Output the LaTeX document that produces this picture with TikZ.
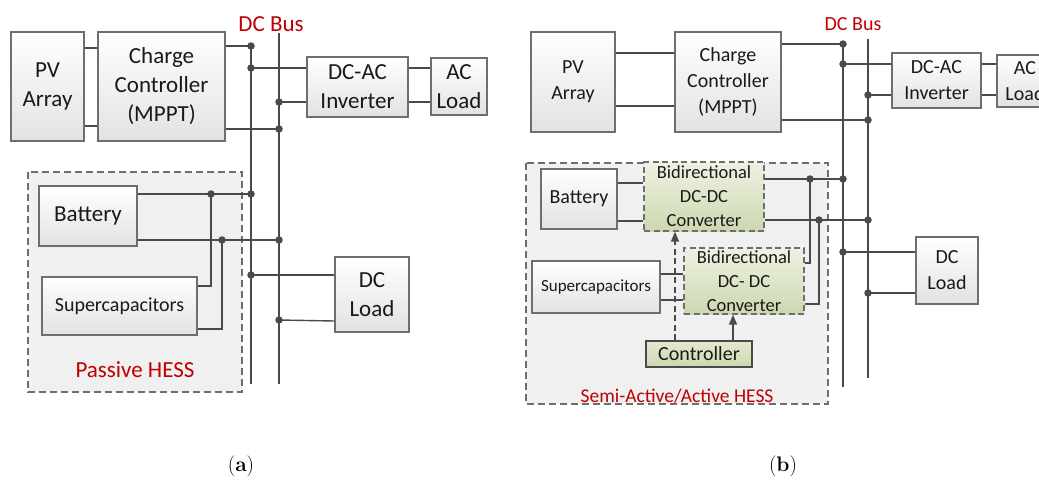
\documentclass[tikz,border=0pt]{standalone}
\usepackage{fontspec}
\setmainfont{Carlito}
\newfontfamily\capfont{Latin Modern Roman}
\usetikzlibrary{arrows.meta}
\definecolor{linec}{HTML}{4A4A4A}
\definecolor{boxb}{HTML}{6E6E6E}
\definecolor{boxbot}{HTML}{E2E2E2}
\definecolor{hessfill}{HTML}{F0F0F0}
\definecolor{redt}{HTML}{C00000}
\definecolor{gtop}{HTML}{EEF2E2}
\definecolor{gbot}{HTML}{CCD8B0}
\definecolor{ctop}{HTML}{E2EAD0}
\tikzset{
  box/.style={draw=boxb, line width=1.3pt, top color=white, bottom color=boxbot, inner sep=0pt, align=center, text=black!90},
  gbox/.style={draw=boxb, line width=1.3pt, dash pattern=on 6pt off 3.5pt, top color=gtop, bottom color=gbot, inner sep=0pt, align=center, text=black!90},
  cbox/.style={draw=linec, line width=1.3pt, top color=ctop, bottom color=gbot, inner sep=0pt, align=center, text=black!90},
  wire/.style={draw=linec, line width=1.4pt},
  hess/.style={draw=boxb, line width=1.3pt, dash pattern=on 7pt off 4pt, fill=hessfill},
  lbl/.style={text=redt, inner sep=0pt},
  big/.style={font=\fontsize{23}{29}\selectfont},
  mid/.style={font=\fontsize{20}{26}\selectfont},
  dot/.style={circle, fill=linec, inner sep=0pt, minimum size=7.5pt},
  capstyle/.style={font=\capfont\fontsize{21}{24}\selectfont},
}
\begin{document}
\begin{tikzpicture}[x=1pt,y=-1pt]
\useasboundingbox (0,0) rectangle (1039,483);
\begin{scope}
\clip (0,0) rectangle (1039,483);
% ================= (a) =================
\draw[hess] (28,172) rectangle (242,392);
\node[box,big,minimum width=73pt,minimum height=109pt] (aPV) at (47.5,86.5) {PV\\Array};
\node[box,big,minimum width=127pt,minimum height=109pt] (aCC) at (161.5,86.5) {Charge\\Controller\\(MPPT)};
\node[box,big,minimum width=101pt,minimum height=60pt] (aInv) at (357.5,87) {DC-AC\\Inverter};
\node[box,big,minimum width=56pt,minimum height=57pt] (aAC) at (459,86.5) {AC\\Load};
\node[box,big,minimum width=98pt,minimum height=60pt] (aBat) at (88,216) {Battery};
\node[box,mid,minimum width=155pt,minimum height=58pt] (aSC) at (119.5,306) {Supercapacitors};
\node[box,big,minimum width=74pt,minimum height=75pt] (aDCL) at (372,294.5) {DC\\Load};
\node[lbl,big] (aBus) at (271,24) {DC Bus};
\node[lbl,big] (aHess) at (135,370) {Passive HESS};
% bus
\coordinate (a1t) at (251,46); \coordinate (a1b) at (251,384);
\coordinate (a2t) at (279,33); \coordinate (a2b) at (279,384);
\draw[wire] (a1t) -- (a1b);
\draw[wire] (a2t) -- (a2b);
% junctions
\node[dot] (ja1) at (251,46) {};
\node[dot] (ja2) at (251,68) {};
\node[dot] (ja3) at (279,102) {};
\node[dot] (ja4) at (279,129) {};
\node[dot] (ja5) at (251,194) {};
\node[dot] (ja6) at (211,194) {};
\node[dot] (ja7) at (279,240) {};
\node[dot] (ja8) at (222,240) {};
\node[dot] (ja9) at (251,275) {};
\node[dot] (ja10) at (279,320) {};
\coordinate (ja11) at (211,286);
\coordinate (ja12) at (222,329);
\draw[wire] (aPV.east |- 0,48) -- (aCC.west |- 0,48);
\draw[wire] (aPV.east |- 0,126) -- (aCC.west |- 0,126);
\draw[wire] (aCC.east |- ja1) -- (ja1.center);
\draw[wire] (aCC.east |- ja4) -- (ja4.center);
\draw[wire] (ja2.center) -- (aInv.west |- ja2);
\draw[wire] (ja3.center) -- (aInv.west |- ja3);
\draw[wire] (aInv.east |- ja2) -- (aAC.west |- ja2);
\draw[wire] (aInv.east |- ja3) -- (aAC.west |- ja3);
\draw[wire] (aBat.east |- ja5) -- (ja5.center);
\draw[wire] (aBat.east |- ja7) -- (ja7.center);
\draw[wire] (aSC.east |- ja11) -- (ja11) -- (ja6.center);
\draw[wire] (aSC.east |- ja12) -- (ja12) -- (ja8.center);
\draw[wire] (ja9.center) -- (aDCL.west |- ja9);
\draw[wire] (ja10.center) -- (aDCL.west |- 0,321);
% ================= (b) =================
\draw[hess] (526,163) rectangle (828,404);
\node[box,mid,minimum width=84pt,minimum height=100pt] (bPV) at (573,82) {PV\\Array};
\node[box,mid,minimum width=106pt,minimum height=100pt] (bCC) at (728,82) {Charge\\Controller\\(MPPT)};
\node[box,mid,minimum width=89pt,minimum height=55pt] (bInv) at (936.5,80.5) {DC-AC\\Inverter};
\node[box,mid,minimum width=56pt,minimum height=52pt] (bAC) at (1025,81) {AC\\Load};
\node[box,mid,minimum width=76pt,minimum height=60pt] (bBat) at (579,199) {Battery};
\node[gbox,font=\fontsize{18.5}{24}\selectfont,minimum width=120pt,minimum height=69pt] (bC1) at (704,196.5) {Bidirectional\\DC-DC\\Converter};
\node[gbox,font=\fontsize{18.5}{24}\selectfont,minimum width=120pt,minimum height=66pt] (bC2) at (744,281) {Bidirectional\\DC- DC\\Converter};
\node[box,font=\fontsize{17}{20}\selectfont,minimum width=128pt,minimum height=52pt] (bSC) at (596,287) {Supercapacitors};
\node[cbox,mid,minimum width=106pt,minimum height=26pt] (bCtl) at (699,354) {Controller};
\node[box,mid,minimum width=62pt,minimum height=67pt] (bDCL) at (947,270.5) {DC\\Load};
\node[lbl,mid] (bBus) at (853,24) {DC Bus};
\node[lbl,font=\fontsize{19.5}{24}\selectfont] (bHess) at (677,396) {Semi-Active/Active HESS};
% bus
\coordinate (b1t) at (843,44); \coordinate (b1b) at (843,387);
\coordinate (b2t) at (868,39); \coordinate (b2b) at (868,378);
\draw[wire] (b1t) -- (b1b);
\draw[wire] (b2t) -- (b2b);
\node[dot] (jb1) at (843,44) {};
\node[dot] (jb2) at (843,64) {};
\node[dot] (jb3) at (868,95) {};
\node[dot] (jb4) at (868,120) {};
\node[dot] (jb5) at (843,179) {};
\node[dot] (jb6) at (810,179) {};
\node[dot] (jb7) at (868,220) {};
\node[dot] (jb8) at (819,220) {};
\node[dot] (jb9) at (843,252) {};
\node[dot] (jb10) at (868,293) {};
\coordinate (jb11) at (810,263);
\coordinate (jb12) at (819,304);
\draw[wire] (bPV.east |- 0,53) -- (bCC.west |- 0,53);
\draw[wire] (bPV.east |- 0,106) -- (bCC.west |- 0,106);
\draw[wire] (bCC.east |- jb1) -- (jb1.center);
\draw[wire] (bCC.east |- jb4) -- (jb4.center);
\draw[wire] (jb2.center) -- (bInv.west |- jb2);
\draw[wire] (jb3.center) -- (bInv.west |- jb3);
\draw[wire] (bInv.east |- jb2) -- (bAC.west |- jb2);
\draw[wire] (bInv.east |- jb3) -- (bAC.west |- jb3);
\draw[wire] (bBat.east |- 0,183) -- (bC1.west |- 0,183);
\draw[wire] (bBat.east |- 0,221) -- (bC1.west |- 0,221);
\draw[wire] (bC1.east |- jb5) -- (jb5.center);
\draw[wire] (bC1.east |- jb7) -- (jb7.center);
\draw[wire] (bC2.east |- jb11) -- (jb11) -- (jb6.center);
\draw[wire] (bC2.east |- jb12) -- (jb12) -- (jb8.center);
\draw[wire] (bSC.east |- 0,274) -- (bC2.west |- 0,274);
\draw[wire] (bSC.east |- 0,300) -- (bC2.west |- 0,300);
\draw[wire] (jb9.center) -- (bDCL.west |- jb9);
\draw[wire] (jb10.center) -- (bDCL.west |- jb10);
\draw[wire, dash pattern=on 6pt off 3.5pt, -{Triangle[length=10pt,width=8pt]}] (bCtl.north -| 675,0) -- (bC1.south -| 675,0);
\draw[wire, -{Triangle[length=10pt,width=8pt]}] (bCtl.north -| 733,0) -- (bC2.south -| 733,0);
\end{scope}
\node[capstyle] (capA) at (241,466) {(\textbf{a})};
\node[capstyle] (capB) at (783,466) {(\textbf{b})};
\end{tikzpicture}
\end{document}
